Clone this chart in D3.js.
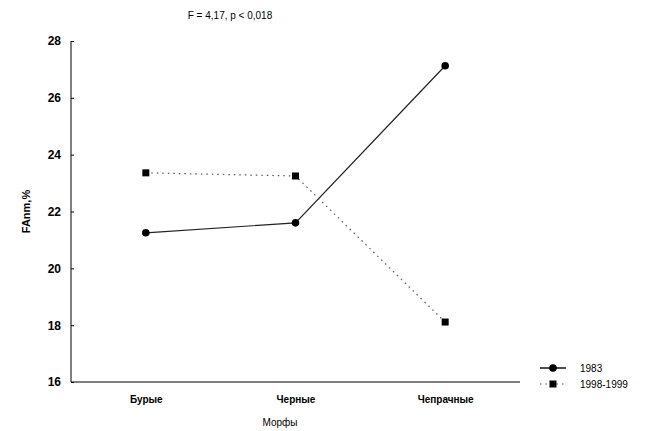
<!DOCTYPE html>
<html lang="ru">
<head>
<meta charset="utf-8">
<script src="https://d3js.org/d3.v7.min.js"></script>
<style>
  body { margin: 0; background: #fff; }
  text { font-family: "Liberation Sans", Arial, sans-serif; fill: #000; }
</style>
</head>
<body>
<div id="chart"></div>
<script>
const morphs = ['Бурые', 'Черные', 'Чепрачные'];
const series1983 = [21.25, 21.6, 27.13];
const series1998 = [23.36, 23.25, 18.11];
const seriesNames = ['1983', '1998-1999'];
const yTicks = [16, 18, 20, 22, 24, 26, 28];

const width = 648, height = 431;
const plotLeft = 71, plotRight = 520, plotTop = 41, plotBottom = 382;

const svg = d3.select('#chart').append('svg')
  .attr('width', width)
  .attr('height', height);

const x = d3.scalePoint().domain(morphs).range([plotLeft, plotRight]).padding(0.5);
const y = d3.scaleLinear().domain([16, 28]).range([plotBottom, plotTop]);

// title
svg.append('text')
  .attr('x', 230).attr('y', 19)
  .attr('text-anchor', 'middle')
  .attr('font-size', 10)
  .text('F = 4,17, p < 0,018');

// y axis (ticks inward)
const yAxis = svg.append('g')
  .attr('transform', `translate(${plotLeft},0)`)
  .call(d3.axisRight(y).tickValues(yTicks).tickSize(3).tickFormat(d => d));
yAxis.select('.domain').attr('d', `M0,${plotTop}V${plotBottom}`).attr('stroke', '#000');
yAxis.selectAll('.tick text')
  .attr('x', -10).attr('text-anchor', 'end')
  .attr('font-size', 12).attr('font-weight', 'bold');

// x axis
const xAxis = svg.append('g')
  .attr('transform', `translate(0,${plotBottom})`)
  .call(d3.axisBottom(x).tickSize(0).tickPadding(14));
xAxis.select('.domain').attr('d', `M${plotLeft},0H${plotRight}`).attr('stroke', '#000');
xAxis.selectAll('.tick text')
  .attr('font-size', 10).attr('font-weight', 'bold');

svg.append('text')
  .attr('x', 280).attr('y', 426)
  .attr('text-anchor', 'middle')
  .attr('font-size', 10)
  .text('Морфы');

svg.append('text')
  .attr('transform', `translate(30,${(plotTop + plotBottom) / 2}) rotate(-90)`)
  .attr('text-anchor', 'middle')
  .attr('font-size', 11).attr('font-weight', 'bold')
  .text('FAnm,%');

// lines
const line = d3.line().x((d, i) => x(morphs[i])).y(d => y(d));

svg.append('path')
  .datum(series1983)
  .attr('d', line)
  .attr('fill', 'none')
  .attr('stroke', '#222')
  .attr('stroke-width', 1.2);

svg.append('path')
  .datum(series1998)
  .attr('d', line)
  .attr('fill', 'none')
  .attr('stroke', '#555')
  .attr('stroke-width', 1.2)
  .attr('stroke-dasharray', '1.5,4');

svg.selectAll('.pt83')
  .data(series1983)
  .enter().append('circle')
  .attr('cx', (d, i) => x(morphs[i]))
  .attr('cy', d => y(d))
  .attr('r', 3.8)
  .attr('fill', '#000');

svg.selectAll('.pt98')
  .data(series1998)
  .enter().append('rect')
  .attr('x', (d, i) => x(morphs[i]) - 3.5)
  .attr('y', d => y(d) - 3.5)
  .attr('width', 7).attr('height', 7)
  .attr('fill', '#000');

// legend
const lgX = 540, lgY = [368, 384];
seriesNames.forEach((name, i) => {
  const g = svg.append('g').attr('transform', `translate(${lgX},${lgY[i]})`);
  g.append('line')
    .attr('x1', 0).attr('x2', 26)
    .attr('stroke', i === 0 ? '#111' : '#555')
    .attr('stroke-width', i === 0 ? 1.5 : 1.2)
    .attr('stroke-dasharray', i === 0 ? null : '1.5,4');
  if (i === 0) {
    g.append('circle').attr('cx', 13).attr('r', 3.8).attr('fill', '#000');
  } else {
    g.append('rect').attr('x', 9.5).attr('y', -3.5).attr('width', 7).attr('height', 7).attr('fill', '#000');
  }
  g.append('text')
    .attr('x', 40).attr('dy', '0.35em')
    .attr('font-size', 10)
    .text(name);
});
</script>
</body>
</html>
